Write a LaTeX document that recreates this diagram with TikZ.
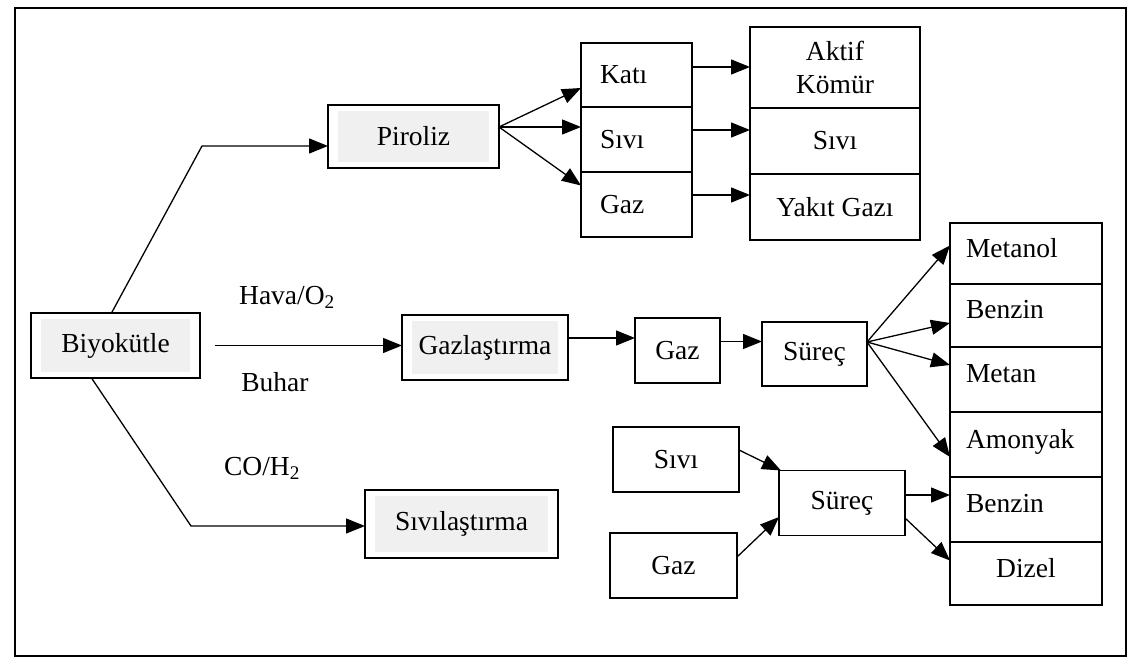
\documentclass[tikz,border=0pt]{standalone}
\usepackage{fontspec}
\setmainfont{Liberation Serif}
\usetikzlibrary{arrows.meta,calc}
\begin{document}
\begin{tikzpicture}[x=1pt,y=-1pt,
  every node/.style={font=\fontsize{27.5}{30}\selectfont},
  box/.style={draw,line width=1.4pt,inner sep=0pt,outer sep=0pt},
  shaded/.style={box,path picture={\fill[black!6]
     ([shift={(10pt,-6pt)}]path picture bounding box.north west) rectangle
     ([shift={(-10pt,6pt)}]path picture bounding box.south east);}},
  rcell/.style={box,align=left,text width=120pt,minimum width=152pt,text depth=12pt},
  lbl/.style={inner sep=0pt},
  arr/.style={line width=1.3pt,-{Triangle[length=19pt,width=15pt]}},
  ln/.style={line width=1.3pt}
]
\useasboundingbox (0,0) rectangle (1138,668);
\draw[line width=1.4pt] (15,8) rectangle (1126,656);

% left column
\node[shaded,minimum width=169pt,minimum height=65pt] (bio) at (115.5,345.5) {Biyokütle};
\node[shaded,minimum width=171pt,minimum height=63pt] (pir) at (413.5,136.5) {Piroliz};
\node[shaded,minimum width=166pt,minimum height=65pt] (gazl) at (485,347.5) {Gazlaştırma};
\node[shaded,minimum width=193pt,minimum height=68pt] (siv) at (461.5,524) {Sıvılaştırma};

% pyrolysis products
\node[box,minimum width=111pt,minimum height=64pt,text width=73pt,align=left] (kati) at (636.5,75) {Katı};
\node[box,minimum width=111pt,minimum height=65pt,text width=73pt,align=left] (sivi1) at (636.5,139.5) {Sıvı};
\node[box,minimum width=111pt,minimum height=65pt,text width=73pt,align=left] (gaz1) at (636.5,204.5) {Gaz};

\node[box,minimum width=170pt,minimum height=81pt,align=center,font=\fontsize{27.5}{33}\selectfont] (aktif) at (835,67.5) {Aktif\\Kömür};
\node[box,minimum width=170pt,minimum height=66pt] (sivi2) at (835,141) {Sıvı};
\node[box,minimum width=170pt,minimum height=66pt] (yakit) at (835,207) {Yakıt Gazı};

% gasification chain
\node[box,minimum width=85pt,minimum height=65pt] (gaz2) at (677.5,350.5) {Gaz};
\node[box,minimum width=105pt,minimum height=64pt] (sur1) at (814.5,354) {Süreç};

% right stack
\node[rcell,minimum height=61pt] (metanol) at (1026,253.5) {Metanol};
\node[rcell,minimum height=63pt] (benzin1) at (1026,315.5) {Benzin};
\node[rcell,minimum height=65pt] (metan) at (1026,379.5) {Metan};
\node[rcell,minimum height=65pt] (amonyak) at (1026,444.5) {Amonyak};
\node[rcell,minimum height=65pt] (benzin2) at (1026,509.5) {Benzin};
\node[box,minimum width=152pt,minimum height=63pt,text depth=12pt] (dizel) at (1026,573.5) {Dizel};

% lower chain
\node[box,minimum width=126pt,minimum height=65pt] (sivi3) at (676,459.5) {Sıvı};
\node[box,minimum width=127pt,minimum height=65pt] (gaz3) at (673.5,565.5) {Gaz};
\node[box,minimum width=126pt,minimum height=65pt] (sur2) at (842,503) {Süreç};

% labels
\node[lbl] (hava) at (287,297) {Hava/O\textsubscript{2}};
\node[lbl] (buhar) at (275,382) {Buhar};
\node[lbl] (coh) at (262,468) {CO/H\textsubscript{2}};

% helper coordinates
\coordinate (c1) at (202,146);
\coordinate (c2) at (191,526);
\coordinate (pe) at ([yshift=9.5pt]pir.east);
\coordinate (se) at ([yshift=12pt]sur1.east);
\coordinate (k1) at ([yshift=8pt]kati.east);
\coordinate (k2) at ([yshift=9.5pt]sivi1.east);
\coordinate (k3) at ([yshift=9.5pt]gaz1.east);
\coordinate (g1) at ([yshift=9.5pt]gazl.east);
\coordinate (g2) at ([yshift=9pt]gaz2.east);
\coordinate (b0) at ([xshift=15pt]bio.east);
\coordinate (s1) at ([yshift=8pt]sur2.east);

% connectors
\draw[arr] ([xshift=-4pt]bio.north) -- (c1) -- (c1 -| pir.west);
\draw[arr] (b0) -- (b0 -| gazl.west);
\draw[arr] ([xshift=-24pt]bio.south) -- (c2) -- (c2 -| siv.west);

\draw[arr] (pe) -- ([yshift=-13pt]kati.west);
\draw[arr] (pe) -- ([yshift=12.5pt]sivi1.west);
\draw[arr] (pe) -- ([yshift=19pt]gaz1.west);

\draw[arr] (k1) -- (k1 -| aktif.west);
\draw[arr] (k2) -- (k2 -| sivi2.west);
\draw[arr] (k3) -- (k3 -| yakit.west);

\draw[arr] (g1) -- (g1 -| gaz2.west);
\draw[arr] (g2) -- (g2 -| sur1.west);

\draw[arr] (se) -- ([yshift=8pt]metanol.west);
\draw[arr] (se) -- ([yshift=-7.5pt]benzin1.west);
\draw[arr] (se) -- ([yshift=14.5pt]metan.west);
\draw[arr] (se) -- ([yshift=-12.5pt]amonyak.west);

\draw[arr] ([yshift=9.5pt]sivi3.east) -- ([xshift=2pt]sur2.north west);
\draw[arr] ([yshift=8.5pt]gaz3.east) -- ([yshift=-14pt]sur2.west);
\draw[arr] (s1) -- (s1 -| benzin2.west);
\draw[arr] ([yshift=-15pt]sur2.east) -- ([yshift=13pt]dizel.west);
\end{tikzpicture}
\end{document}
